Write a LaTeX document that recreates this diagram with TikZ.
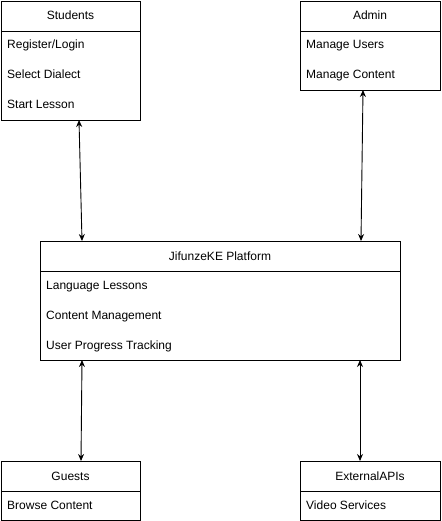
\documentclass[tikz,border=0pt]{standalone}
\usepackage{fontspec}
\setmainfont{Liberation Sans}
\usetikzlibrary{arrows.meta,calc}
\begin{document}
\begin{tikzpicture}[x=1pt,y=-1pt,
  box/.style={draw=black,line width=0.9pt,fill=white,anchor=north west,inner sep=0pt,outer sep=0pt},
  hdr/.style={font=\fontsize{12}{14}\selectfont,anchor=base,inner sep=0pt},
  itm/.style={font=\fontsize{12}{14}\selectfont,anchor=base west,inner sep=0pt},
  link/.style={line width=0.9pt,{Stealth[length=7pt,width=6pt]}-{Stealth[length=7pt,width=6pt]}}]
\useasboundingbox (0,0) rectangle (441,521);
% Students
\node[box,minimum width=139pt,minimum height=119pt] (stu) at (1,1) {};
\draw[line width=0.9pt] (stu.north west) ++(0,30) -- ++(139,0);
\node[hdr] (stuh) at (70.5,20) {Students};
\node[itm] (stu1) at (7,49) {Register/Login};
\node[itm] (stu2) at (7,79) {Select Dialect};
\node[itm] (stu3) at (7,109) {Start Lesson};
% Admin
\node[box,minimum width=140pt,minimum height=89pt] (adm) at (300,1) {};
\draw[line width=0.9pt] (adm.north west) ++(0,30) -- ++(140,0);
\node[hdr] (admh) at (370,20) {Admin};
\node[itm] (adm1) at (306,49) {Manage Users};
\node[itm] (adm2) at (306,79) {Manage Content};
% Platform
\node[box,minimum width=360pt,minimum height=119pt] (plat) at (40,241) {};
\draw[line width=0.9pt] (plat.north west) ++(0,30) -- ++(360,0);
\node[hdr] (plath) at (220,260) {JifunzeKE Platform};
\node[itm] (plat1) at (46,289) {Language Lessons};
\node[itm] (plat2) at (46,319) {Content Management};
\node[itm] (plat3) at (46,349) {User Progress Tracking};
% Guests
\node[box,minimum width=139pt,minimum height=59pt] (gst) at (1,461) {};
\draw[line width=0.9pt] (gst.north west) ++(0,30) -- ++(139,0);
\node[hdr] (gsth) at (70.5,480) {Guests};
\node[itm] (gst1) at (7,509) {Browse Content};
% External APIs
\node[box,minimum width=140pt,minimum height=59pt] (ext) at (300,461) {};
\draw[line width=0.9pt] (ext.north west) ++(0,30) -- ++(140,0);
\node[hdr] (exth) at (370,480) {ExternalAPIs};
\node[itm] (ext1) at (306,509) {Video Services};
% connectors
\draw[link] ([xshift=8.5pt]stu.south) -- ([xshift=-138pt]plat.north);
\draw[link] ([xshift=-7pt]adm.south) -- ([xshift=141pt]plat.north);
\draw[link] ([xshift=-138pt]plat.south) -- ([xshift=10.5pt]gst.north);
\draw[link] ([xshift=140pt]plat.south) -- ([xshift=-10pt]ext.north);
\end{tikzpicture}
\end{document}
